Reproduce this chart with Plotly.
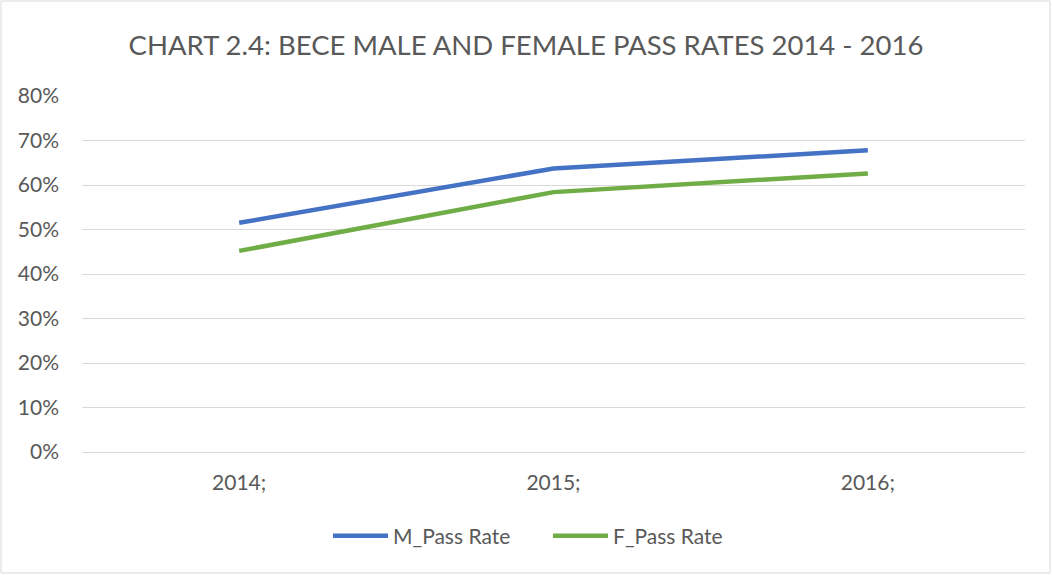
import plotly.graph_objects as go

years = ["2014;", "2015;", "2016;"]
m_pass = [0.515, 0.637, 0.678]
f_pass = [0.452, 0.584, 0.626]
y_ticks = [0, 0.1, 0.2, 0.3, 0.4, 0.5, 0.6, 0.7, 0.8]
y_labels = ["0%", "10%", "20%", "30%", "40%", "50%", "60%", "70%", "80%"]

FONT = "Lato, 'Open Sans', sans-serif"
GREY = "#595959"

fig = go.Figure()
fig.add_trace(go.Scatter(x=years, y=m_pass, mode="lines", name="M_Pass Rate",
                         line=dict(color="#4472C4", width=4.5)))
fig.add_trace(go.Scatter(x=years, y=f_pass, mode="lines", name="F_Pass Rate",
                         line=dict(color="#70AD47", width=4.5)))

W, H = 1052, 575
L, R, T, B = 82, 27, 96, 123
dw, dh = W - L - R, H - T - B

def px(x):
    return (x - L) / dw

def py(y):
    return (H - B - y) / dh

fig.update_layout(
    width=W, height=H,
    margin=dict(l=L, r=R, t=T, b=B),
    paper_bgcolor="white", plot_bgcolor="white",
    font=dict(family=FONT, color=GREY, size=21),
    title=dict(text="CHART 2.4: BECE MALE AND FEMALE PASS RATES 2014 - 2016",
               x=0.5, xref="container", xanchor="center",
               y=1 - 45 / H, yref="container", yanchor="middle",
               font=dict(size=27.5, color=GREY, family=FONT)),
    xaxis=dict(type="category", range=[-0.5, 2.5], showgrid=False,
               showline=True, linecolor="#D9D9D9", linewidth=1,
               ticks="", tickfont=dict(size=21, color=GREY), ticklabelstandoff=12,
               zeroline=False),
    yaxis=dict(range=[0, 0.8], tickvals=y_ticks, ticktext=y_labels,
               showgrid=True, gridcolor="#D9D9D9", gridwidth=1,
               zeroline=False, showline=False, ticks="",
               tickfont=dict(size=21, color=GREY), ticklabelstandoff=22),
    legend=dict(orientation="h", x=px(328), xanchor="left", y=py(536), yanchor="middle",
                font=dict(size=21, color=GREY), itemwidth=55,
                entrywidth=150, entrywidthmode="pixels"),
    showlegend=True,
    shapes=[dict(type="rect", xref="paper", yref="paper",
                 x0=px(1), x1=px(1050), y0=py(573), y1=py(1),
                 line=dict(color="#D9D9D9", width=1), layer="below")],
)

fig.write_html("out.html", config={"displayModeBar": False},
               post_script="document.body.style.margin='0';")
